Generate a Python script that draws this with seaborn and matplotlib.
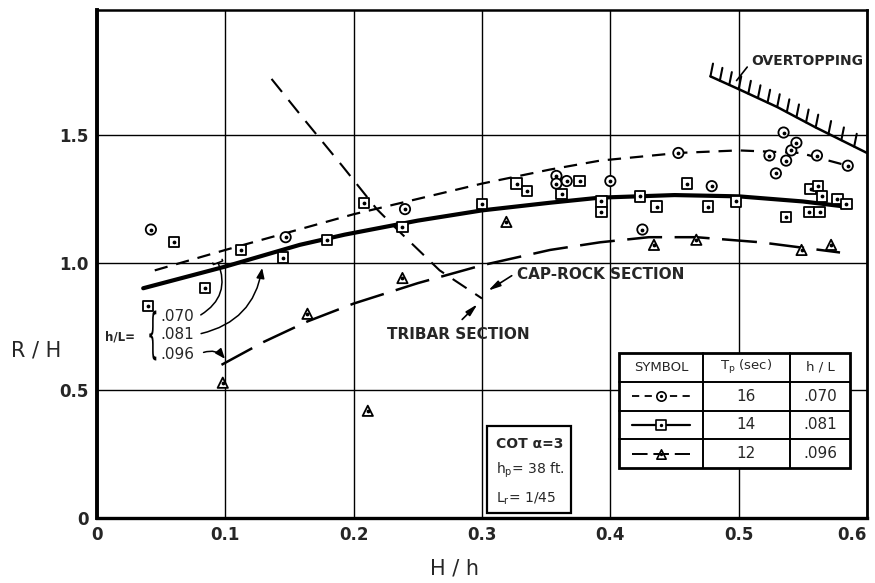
import numpy as np
import pandas as pd
import matplotlib
matplotlib.use("Agg")
import matplotlib.pyplot as plt
import seaborn as sns
from matplotlib.patches import Rectangle, PathPatch
from matplotlib.textpath import TextPath
from matplotlib.transforms import Affine2D, ScaledTranslation

# ---------------- data ----------------
circ_x = [0.042, 0.147, 0.240, 0.358, 0.358, 0.366, 0.400, 0.425, 0.453, 0.479,
          0.524, 0.529, 0.535, 0.537, 0.541, 0.545, 0.561, 0.585]
circ_y = [1.13, 1.10, 1.21, 1.34, 1.31, 1.32, 1.32, 1.13, 1.43, 1.30,
          1.42, 1.35, 1.51, 1.40, 1.44, 1.47, 1.42, 1.38]
sq_x = [0.040, 0.060, 0.084, 0.112, 0.145, 0.179, 0.208, 0.238, 0.300, 0.327,
        0.335, 0.362, 0.376, 0.393, 0.393, 0.423, 0.436, 0.460, 0.476, 0.498,
        0.537, 0.555, 0.556, 0.562, 0.563, 0.565, 0.577, 0.584]
sq_y = [0.83, 1.08, 0.90, 1.05, 1.02, 1.09, 1.235, 1.14, 1.23, 1.31,
        1.28, 1.27, 1.32, 1.24, 1.20, 1.26, 1.22, 1.31, 1.22, 1.24,
        1.18, 1.20, 1.29, 1.30, 1.20, 1.26, 1.25, 1.23]
tri_x = [0.098, 0.164, 0.211, 0.238, 0.319, 0.434, 0.467, 0.549, 0.572]
tri_y = [0.53, 0.80, 0.42, 0.94, 1.16, 1.07, 1.09, 1.05, 1.07]

# fitted curves
c070_x = [0.045, 0.10, 0.15, 0.20, 0.25, 0.30, 0.353, 0.392, 0.453, 0.50, 0.548, 0.585]
c070_y = [0.97, 1.05, 1.12, 1.19, 1.25, 1.31, 1.365, 1.40, 1.43, 1.44, 1.43, 1.38]
c081_x = [0.036, 0.10, 0.158, 0.193, 0.25, 0.30, 0.353, 0.392, 0.45, 0.50, 0.55, 0.583]
c081_y = [0.90, 0.985, 1.07, 1.11, 1.165, 1.205, 1.235, 1.255, 1.265, 1.26, 1.24, 1.22]
c096_x = [0.097, 0.13, 0.164, 0.20, 0.25, 0.30, 0.353, 0.392, 0.43, 0.467, 0.517, 0.579]
c096_y = [0.60, 0.69, 0.77, 0.84, 0.92, 0.99, 1.05, 1.08, 1.10, 1.10, 1.08, 1.04]
tribar_x = [0.136, 0.16, 0.191, 0.218, 0.236, 0.267, 0.300]
tribar_y = [1.72, 1.57, 1.38, 1.21, 1.12, 0.97, 0.86]
over_x = [0.478, 0.50, 0.53, 0.56, 0.60]
over_y = [1.73, 1.68, 1.61, 1.53, 1.43]

x_ticks = [0, 0.1, 0.2, 0.3, 0.4, 0.5, 0.6]
x_labels = ["0", "0.1", "0.2", "0.3", "0.4", "0.5", "0.6"]
y_ticks = [0, 0.5, 1.0, 1.5]
y_labels = ["0", "0.5", "1.0", "1.5"]

tp_vals = ["16", "14", "12"]
hl_vals = [".070", ".081", ".096"]

# ---------------- figure ----------------
sns.set_theme(style="white")
plt.rcParams["font.family"] = ["DejaVu Sans"]
fig = plt.figure(figsize=(8.75, 5.83), dpi=100)
ax = fig.add_axes([97/875, 65/583, 770/875, 508/583])

pts = pd.DataFrame({
    "x": circ_x + sq_x + tri_x,
    "y": circ_y + sq_y + tri_y,
    "s": ["c"]*len(circ_x) + ["q"]*len(sq_x) + ["t"]*len(tri_x),
})
sns.scatterplot(data=pts, x="x", y="y", style="s",
                markers={"c": "o", "q": "s", "t": "^"}, s=55,
                facecolor="white", edgecolor="black", linewidth=1.3,
                legend=False, ax=ax, zorder=5)
ax.scatter(pts["x"], pts["y"], s=3, color="black", zorder=6)

sns.lineplot(x=c070_x, y=c070_y, sort=False, estimator=None, color="black",
             lw=1.6, ax=ax, zorder=4).lines[-1].set_dashes([6, 4])
sns.lineplot(x=c081_x, y=c081_y, sort=False, estimator=None, color="black",
             lw=3.0, ax=ax, zorder=4)
sns.lineplot(x=c096_x, y=c096_y, sort=False, estimator=None, color="black",
             lw=1.8, ax=ax, zorder=4).lines[-1].set_dashes([14, 5])
sns.lineplot(x=tribar_x, y=tribar_y, sort=False, estimator=None, color="black",
             lw=1.5, ax=ax, zorder=4).lines[-1].set_dashes([8, 5])
sns.lineplot(x=over_x, y=over_y, sort=False, estimator=None, color="black",
             lw=1.8, ax=ax, zorder=4)

# hatching above overtopping line
ox = np.array(over_x); oy = np.array(over_y)
for i in range(len(ox) - 1):
    n = 3 if i == 0 else 4
    for k in range(n):
        f = k / n
        hx = ox[i] + f * (ox[i+1] - ox[i])
        hy = oy[i] + f * (oy[i+1] - oy[i])
        ax.plot([hx, hx + 0.002], [hy, hy + 0.05], color="black", lw=1.5, zorder=4)

# axes
ax.set_xlim(0, 0.6)
ax.set_ylim(0, 1.99)
ax.set_xticks(x_ticks)
ax.set_xticklabels(x_labels, fontsize=12, fontweight="bold")
ax.get_xticklabels()[-1].set_horizontalalignment("right")
ax.set_yticks(y_ticks)
ax.set_yticklabels(y_labels, fontsize=12, fontweight="bold")
ax.tick_params(length=0, pad=6)
ax.grid(True, color="black", lw=1.0)
ax.set_axisbelow(True)
for side, lw in [("left", 2.8), ("bottom", 2.4), ("top", 1.8), ("right", 2.0)]:
    ax.spines[side].set_visible(True)
    ax.spines[side].set_color("black")
    ax.spines[side].set_linewidth(lw)
ax.set_xlabel("")
ax.set_ylabel("")
fig.text(455/875, 14/583, "H / h", fontsize=15, ha="center", va="center")
fig.text(36/875, (583-350)/583, "R / H", fontsize=15, ha="center", va="center")

# h/L annotation
ax.text(0.006, 0.71, "h/L=", fontsize=8.5, fontweight="bold", va="center")
brace = TextPath((0, 0), "{", size=20)
bb = brace.get_extents()
btrans = (Affine2D().translate(-(bb.x0 + bb.x1) / 2, -(bb.y0 + bb.y1) / 2)
          .scale(7.0 / bb.width, 50.0 / bb.height)
          + ScaledTranslation(0.0435, 0.715, ax.transData))
ax.add_patch(PathPatch(brace, transform=btrans, facecolor="black", edgecolor="none"))
ax.text(0.0495, 0.79, ".070", fontsize=11, va="center")
ax.text(0.0495, 0.718, ".081", fontsize=11, va="center")
ax.text(0.0495, 0.64, ".096", fontsize=11, va="center")
ax.annotate("", xy=(0.0935, 1.01), xytext=(0.079, 0.79),
            arrowprops=dict(arrowstyle="-[, widthB=0.3, lengthB=0.1", color="black",
                            lw=1.1, connectionstyle="arc3,rad=0.45"))
ax.annotate("", xy=(0.129, 0.99), xytext=(0.079, 0.72),
            arrowprops=dict(arrowstyle="-|>, head_width=0.2, head_length=0.5",
                            color="black", lw=1.1, connectionstyle="arc3,rad=0.35"))
ax.annotate("", xy=(0.101, 0.615), xytext=(0.081, 0.645),
            arrowprops=dict(arrowstyle="-|>, head_width=0.2, head_length=0.5",
                            color="black", lw=1.1, connectionstyle="arc3,rad=-0.4"))

# section labels
ax.text(0.327, 0.955, "CAP-ROCK SECTION", fontsize=11, fontweight="bold", va="center")
ax.annotate("", xy=(0.303, 0.885), xytext=(0.325, 0.955),
            arrowprops=dict(arrowstyle="-|>, head_width=0.15, head_length=0.6",
                            color="black", lw=1.2))
ax.text(0.226, 0.72, "TRIBAR SECTION", fontsize=11, fontweight="bold", va="center")
ax.annotate("", xy=(0.298, 0.845), xytext=(0.283, 0.77),
            arrowprops=dict(arrowstyle="-|>, head_width=0.15, head_length=0.6",
                            color="black", lw=1.2))
ax.text(0.510, 1.79, "OVERTOPPING", fontsize=10, fontweight="bold", va="center")
ax.annotate("", xy=(0.497, 1.705), xytext=(0.508, 1.775),
            arrowprops=dict(arrowstyle="-", color="black", lw=1.2))

# COT box
ax.add_patch(Rectangle((0.304, 0.02), 0.065, 0.34, facecolor="white",
                       edgecolor="black", lw=1.6, zorder=7))
ax.text(0.311, 0.29, "COT α=3", fontsize=10, fontweight="bold", va="center", zorder=8)
ax.text(0.311, 0.185, r"h$_\mathrm{p}$= 38 ft.", fontsize=10, va="center", zorder=8)
ax.text(0.311, 0.075, r"L$_\mathrm{r}$= 1/45", fontsize=10, va="center", zorder=8)

# legend table
tx = [0.407, 0.472, 0.540, 0.587]
ty_top, rh = 0.647, 0.113
ax.add_patch(Rectangle((tx[0], ty_top - 4*rh), tx[3] - tx[0], 4*rh,
                       facecolor="white", edgecolor="black", lw=2.0, zorder=7))
for r in range(1, 4):
    ax.plot([tx[0], tx[3]], [ty_top - r*rh]*2, color="black", lw=1.4, zorder=8)
for c in (1, 2):
    ax.plot([tx[c]]*2, [ty_top, ty_top - 4*rh], color="black", lw=1.4, zorder=8)
hy = ty_top - rh/2
ax.text((tx[0]+tx[1])/2, hy, "SYMBOL", fontsize=9.5, ha="center", va="center", zorder=9)
ax.text((tx[1]+tx[2])/2, hy, r"T$_\mathrm{p}$ (sec)", fontsize=9.5, ha="center", va="center", zorder=9)
ax.text((tx[2]+tx[3])/2, hy, "h / L", fontsize=9.5, ha="center", va="center", zorder=9)
styles = [("o", [4, 3], 1.3), ("s", None, 1.6), ("^", [8, 3], 1.4)]
for i in range(3):
    yc = ty_top - (i + 1.5) * rh
    mk, dash, lw = styles[i]
    ln, = ax.plot([tx[0] + 0.010, tx[1] - 0.010], [yc, yc], color="black", lw=lw, zorder=8)
    if dash:
        ln.set_dashes(dash)
    mx = (tx[0] + tx[1]) / 2
    ax.scatter([mx], [yc], marker=mk, s=45, facecolor="white", edgecolor="black",
               linewidth=1.2, zorder=9)
    ax.scatter([mx], [yc], s=2, color="black", zorder=10)
    ax.text((tx[1]+tx[2])/2, yc, tp_vals[i], fontsize=11, ha="center", va="center", zorder=9)
    ax.text((tx[2]+tx[3])/2, yc, hl_vals[i], fontsize=11, ha="center", va="center", zorder=9)

fig.savefig("out.png", dpi=100, facecolor="white")
